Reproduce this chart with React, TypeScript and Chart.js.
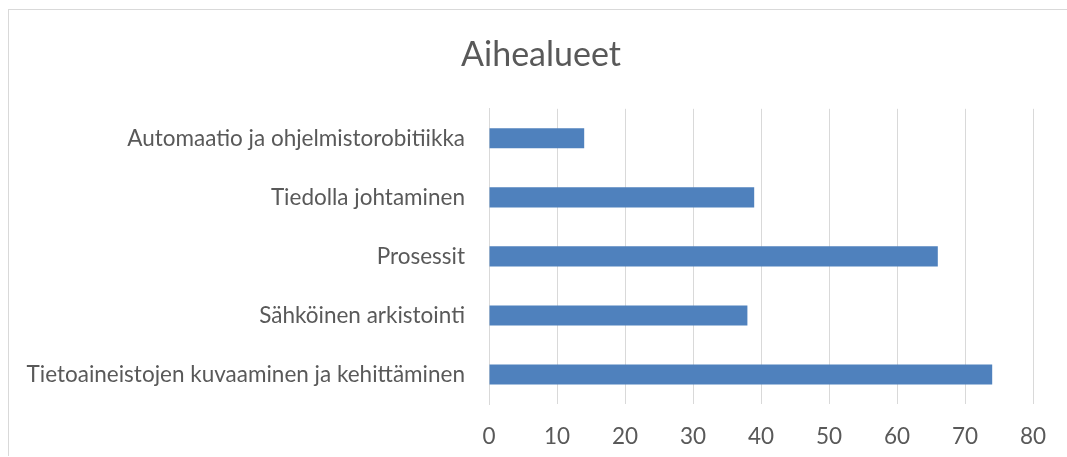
import React, { useEffect, useRef } from "react";
import { Chart, registerables } from "chart.js";

Chart.register(...registerables);

const title = "Aihealueet";
const categories = [
  "Automaatio ja ohjelmistorobitiikka",
  "Tiedolla johtaminen",
  "Prosessit",
  "Sähköinen arkistointi",
  "Tietoaineistojen kuvaaminen ja kehittäminen",
];
const values = [14, 39, 66, 38, 74];
const xMin = 0;
const xMax = 80;
const xStep = 10;

const FONT = "Lato";
const TEXT = "#595959";
const GRID = "#d9d9d9";
const BAR = "#4f81bd";

const CW = 1058;
const CH = 447;

export default function App() {
  const ref = useRef<HTMLCanvasElement | null>(null);
  useEffect(() => {
    document.documentElement.style.overflow = "hidden";
    document.body.style.overflow = "hidden";
    document.body.style.margin = "8px 0 0 8px";
    if (!ref.current) return;
    const chart = new Chart(ref.current, {
      type: "bar",
      data: {
        labels: categories,
        datasets: [
          {
            data: values,
            backgroundColor: BAR,
            borderWidth: 0,
            barPercentage: 0.34,
            categoryPercentage: 1,
          },
        ],
      },
      options: {
        indexAxis: "y",
        animation: false,
        responsive: false,
        layout: { padding: 0 },
        plugins: {
          legend: { display: false },
          tooltip: { enabled: false },
          title: {
            display: true,
            text: title,
            color: TEXT,
            font: { family: FONT, size: 34, weight: "normal" },
            padding: { top: 25, bottom: 33 },
          },
        },
        scales: {
          x: {
            min: xMin,
            max: xMax,
            ticks: {
              stepSize: xStep,
              color: TEXT,
              font: { family: FONT, size: 22.5 },
              padding: 19,
              maxRotation: 0,
            },
            grid: { color: GRID, lineWidth: 1, drawTicks: false },
            border: { display: false },
            afterFit: (scale: any) => {
              scale.height = 53;
              scale.paddingRight = 34;
            },
          },
          y: {
            ticks: {
              color: TEXT,
              font: { family: FONT, size: 22.5 },
              padding: 24,
            },
            grid: { display: false, drawTicks: false },
            border: { display: true, color: GRID, width: 1 },
            afterFit: (scale: any) => {
              scale.width = 480;
            },
          },
        },
      },
      plugins: [
        {
          id: "shiftTitle",
          beforeDraw: (c: any) => {
            const t = c.titleBlock;
            if (t) {
              t.left = 0;
              t.right = 1064;
            }
          },
        },
      ],
    });
    return () => chart.destroy();
  }, []);
  return (
    <div
      style={{
        position: "relative",
        top: 1,
        width: CW,
        height: CH,
        borderLeft: `1px solid ${GRID}`,
        borderTop: `1px solid ${GRID}`,
        background: "#fff",
      }}
    >
      <canvas ref={ref} width={CW} height={CH} style={{ display: "block" }} />
    </div>
  );
}
